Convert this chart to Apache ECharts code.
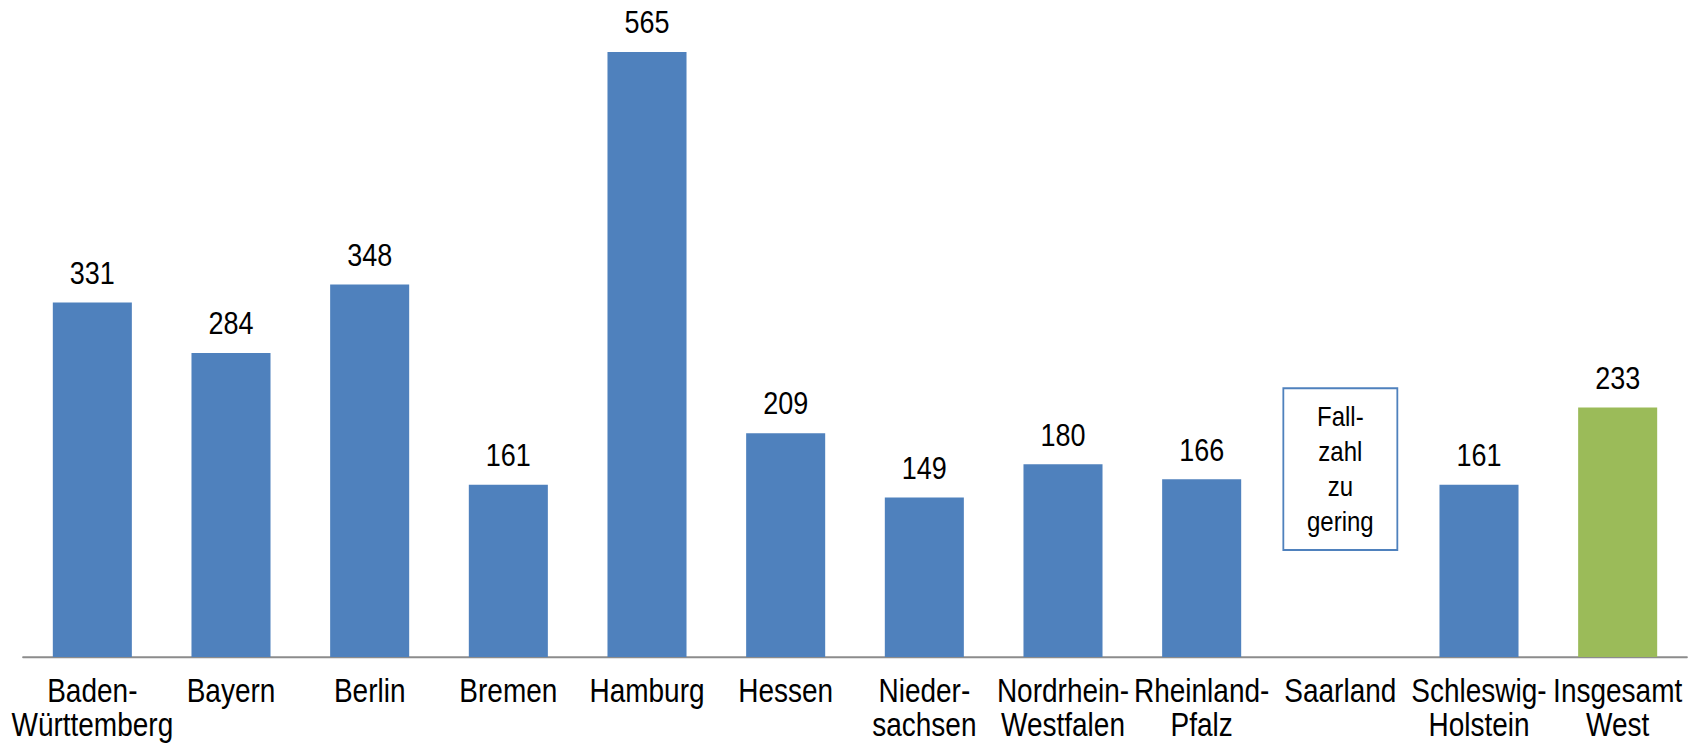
<!DOCTYPE html>
<html>
<head>
<meta charset="utf-8">
<script src="https://cdn.jsdelivr.net/npm/echarts@6/dist/echarts.min.js"></script>
<style>
  html, body { margin: 0; padding: 0; background: #fff; overflow: hidden; }
  #wrap { width: 1697px; height: 747px; overflow: hidden; }
  /* the chart is laid out in a shorter box and stretched vertically,
     which gives the tall, condensed look of the lettering */
  #chart { width: 1697px; height: 633px; transform: scaleY(1.18009); transform-origin: 0 0; }
</style>
</head>
<body>
<div id="wrap"><div id="chart"></div></div>
<script>
// Bundesländer (West) und Gesamtwert
const categories = [
  'Baden-\nWürttemberg', 'Bayern', 'Berlin', 'Bremen', 'Hamburg', 'Hessen',
  'Nieder-\nsachsen', 'Nordrhein-\nWestfalen', 'Rheinland-\nPfalz', 'Saarland',
  'Schleswig-\nHolstein', 'Insgesamt\nWest'
];
const values = [331, 284, 348, 161, 565, 209, 149, 180, 166, null, 161, 233];
// Hinweis für Länder ohne ausreichende Fallzahl: [Kategorie, unten, oben, Text]
const notes = [[9, 100, 251, 'Fall-\nzahl\nzu\ngering']];

const BLUE = '#4f81bd';
const GREEN = '#9bbb59';
const FONT = '"Liberation Sans", Arial, sans-serif';

const barData = values.map((v, i) => ({
  value: v,
  itemStyle: { color: i === values.length - 1 ? GREEN : BLUE }
}));

const chart = echarts.init(document.getElementById('chart'), null, { renderer: 'svg' });
chart.setOption({
  animation: false,
  grid: { left: 23, right: 10, top: 12.3, bottom: 76.2, containLabel: false, outerBoundsMode: 'none' },
  xAxis: {
    type: 'category',
    data: categories,
    axisTick: { show: false },
    axisLine: { lineStyle: { color: '#8c8c8c', width: 1.7 } },
    axisLabel: {
      interval: 0,
      color: '#000',
      fontFamily: FONT,
      fontSize: 28,
      lineHeight: 28.8,
      margin: 14
    }
  },
  yAxis: {
    type: 'value',
    min: 0,
    max: 600,
    show: false,
    splitLine: { show: false }
  },
  series: [
    {
      type: 'bar',
      data: barData,
      barCategoryGap: '43%',
      label: {
        show: true,
        position: 'top',
        distance: 12,
        color: '#000',
        fontFamily: FONT,
        fontSize: 27
      }
    },
    {
      type: 'custom',
      data: notes,
      renderItem: function (params, api) {
        const lo = api.coord([api.value(0), api.value(1)]);
        const hi = api.coord([api.value(0), api.value(2)]);
        const w = 114;
        return {
          type: 'group',
          children: [
            {
              type: 'rect',
              shape: { x: lo[0] - w / 2, y: hi[1], width: w, height: lo[1] - hi[1] },
              style: { fill: '#fff', stroke: BLUE, lineWidth: 1.8 }
            },
            {
              type: 'text',
              x: lo[0],
              y: (lo[1] + hi[1]) / 2,
              style: {
                text: notes[params.dataIndex][3],
                align: 'center',
                verticalAlign: 'middle',
                fill: '#000',
                font: '24px ' + FONT,
                lineHeight: 29.7
              }
            }
          ]
        };
      }
    }
  ]
});
</script>
</body>
</html>
